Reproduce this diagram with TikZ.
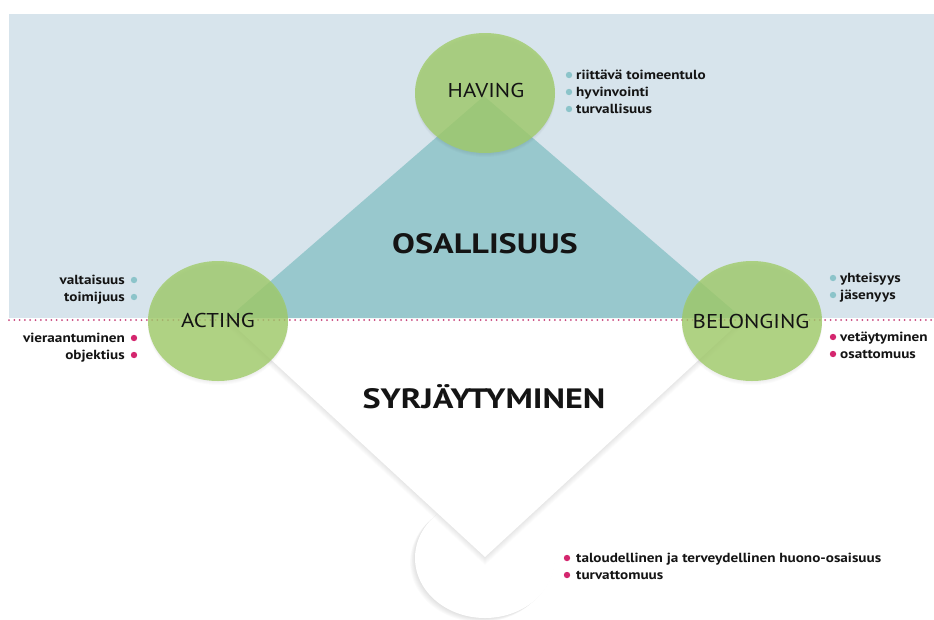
\documentclass[tikz,border=0pt]{standalone}
\usepackage{fontspec}
\setmainfont{PT Sans}
\newfontfamily\titlefam{PT Sans}[FakeStretch=1.22]
\newfontfamily\labelfam{PT Sans}[FakeStretch=1.14]
\newfontfamily\itemfam{PT Sans}[FakeStretch=1.15]
\usetikzlibrary{calc}
\definecolor{bgblue}{RGB}{215,228,236}
\definecolor{tealtri}{RGB}{152,200,205}
\definecolor{circgreen}{RGB}{160,203,105}
\definecolor{bulblue}{RGB}{140,196,202}
\definecolor{bulpink}{RGB}{212,38,110}
\definecolor{dotpink}{RGB}{200,70,125}
\definecolor{txt}{RGB}{20,20,20}
\begin{document}
\begin{tikzpicture}[x=1pt,y=-1pt,
  ring/.style={fill=circgreen, fill opacity=0.8, draw=none},
  caplabel/.style={font=\labelfam\fontsize{20}{24}\selectfont, text=txt, inner sep=0, anchor=base},
  bigtitle/.style={font=\titlefam\fontsize{28}{32}\selectfont\bfseries, text=txt, inner sep=0, anchor=base},
  item/.style={font=\itemfam\fontsize{13.2}{15}\selectfont\bfseries, text=txt, inner sep=0},
  itemL/.style={item, anchor=base east},
  itemR/.style={item, anchor=base west},
  bulb/.style={fill=bulblue},
  bulp/.style={fill=bulpink},
  dotline/.style={draw=dotpink, line width=2pt, line cap=round, dash pattern=on 0pt off 5.3pt}]
\useasboundingbox (0,0) rectangle (934,619);
\fill[white] (0,0) rectangle (934,619);
\fill[bgblue] (9,14) rectangle (934,318);

\coordinate (T) at (484,96);
\coordinate (L) at (228,318);
\coordinate (R) at (742,318);
\coordinate (B) at (485,557);

% bottom circle with soft shadow
\foreach \s in {1,...,7}{
  \fill[black, opacity=0.014] (485-0.7*\s,558+0.6*\s) ellipse [x radius=70, y radius=60];
}
\fill[white] (485,558) ellipse [x radius=70, y radius=60];

% lower triangle with soft shadow
\foreach \s in {1,...,8}{
  \fill[black, opacity=0.013] (228,320+\s) -- (485,557+\s) -- (742,320+\s) -- cycle;
}
\fill[white] (228,320) -- (B) -- (742,320) -- cycle;

% upper teal triangle
\fill[tealtri] (T) -- (L) -- (R) -- cycle;

% dotted divider
\coordinate (dl) at (9,320);
\coordinate (dr) at (934,320);
\draw[dotline] (dl) -- (dr);

% green circles with soft shadow
\foreach \cx/\cy in {485/93, 218/321, 752/321}{
  \foreach \s in {1,...,4}{
    \fill[black, opacity=0.015] (\cx,\cy+\s) ellipse [x radius=70, y radius=60];
  }
  \fill[ring] (\cx,\cy) ellipse [x radius=70, y radius=60];
}

% labels
\node[caplabel] (having) at (486,97) {HAVING};
\node[caplabel] (acting) at (218,327) {ACTING};
\node[caplabel] (belonging) at (751,328) {BELONGING};
\node[bigtitle] (osall) at (485,253) {OSALLISUUS};
\node[bigtitle] (syrj) at (484,408) {SYRJÄYTYMINEN};

% HAVING list
\foreach \yy in {75,92,109} \fill[bulb] (569,\yy) circle (3.2);
\node[itemR] (h1) at (576,79) {riittävä toimeentulo};
\node[itemR] (h2) at (576,96) {hyvinvointi};
\node[itemR] (h3) at (576,113) {turvallisuus};

% ACTING lists
\foreach \yy in {280,297} \fill[bulb] (134,\yy) circle (3.2);
\node[itemL] (a1) at (125,284) {valtaisuus};
\node[itemL] (a2) at (125,301) {toimijuus};
\foreach \yy in {338,355} \fill[bulp] (134,\yy) circle (3.2);
\node[itemL] (a3) at (125,342) {vieraantuminen};
\node[itemL] (a4) at (125,359) {objektius};

% BELONGING lists
\foreach \yy in {278,295} \fill[bulb] (833,\yy) circle (3.2);
\node[itemR] (b1) at (840,282) {yhteisyys};
\node[itemR] (b2) at (840,299) {jäsenyys};
\foreach \yy in {337,354} \fill[bulp] (833,\yy) circle (3.2);
\node[itemR] (b3) at (840,341) {vetäytyminen};
\node[itemR] (b4) at (840,358) {osattomuus};

% bottom list
\foreach \yy in {558,575} \fill[bulp] (567,\yy) circle (3.2);
\node[itemR] (s1) at (576,562) {taloudellinen ja terveydellinen huono-osaisuus};
\node[itemR] (s2) at (576,579) {turvattomuus};
\end{tikzpicture}
\end{document}
